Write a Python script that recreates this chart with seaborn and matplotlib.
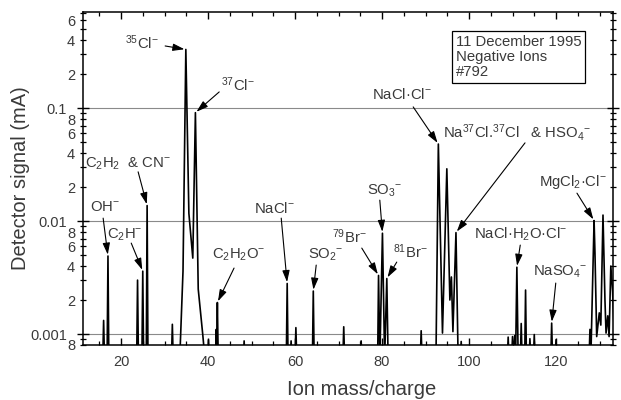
import matplotlib
matplotlib.use("Agg")
import matplotlib.pyplot as plt
import matplotlib.ticker as mticker
import seaborn as sns

# ion mass/charge and detector signal (mA)
BASE = 0.0006  # floor of the trace, below the visible axis
mass = [11.0,
        15.8, 16.0, 16.2, 16.8, 17.0, 17.2,
        23.6, 23.8, 24.0, 24.8, 25.0, 25.2, 25.8, 26.0, 26.2,
        31.6, 31.8, 32.0,
        33.5, 34.25, 34.9, 35.6, 36.5, 37.1, 37.75, 38.8, 39.3,
        39.9, 40.1, 40.3, 41.7, 41.9, 42.0, 42.15, 42.35,
        48.1, 48.3, 48.5,
        58.0, 58.2, 58.4, 58.9, 59.1, 59.3, 60.0, 60.2, 60.4,
        64.0, 64.2, 64.4, 71.0, 71.2, 71.4, 75.0, 75.2, 75.4,
        79.0, 79.2, 79.5, 80.1, 80.6, 81.1, 81.4,
        88.8, 89.0, 89.2,
        92.4, 92.95, 93.9, 94.9, 95.6, 95.95, 96.3, 97.0, 97.5,
        98.0, 98.2, 98.4,
        108.8, 109.0, 109.2, 109.8, 110.0, 110.3, 110.5, 110.7, 111.0, 111.3,
        111.8, 112.0, 112.2, 112.8, 113.0, 113.2, 113.8, 114.0, 114.2,
        114.8, 115.0, 115.2,
        118.8, 119.0, 119.2, 119.8, 120.0, 120.2,
        127.6, 127.8, 128.0, 128.75, 128.95, 129.35, 129.95, 130.3, 130.8,
        131.25, 131.5, 131.9, 132.2, 132.6, 133.0, 133.4, 134.0]
signal = [BASE,
          BASE, 0.00132, BASE, BASE, 0.0049, BASE,
          BASE, 0.0030, BASE, BASE, 0.0036, BASE, BASE, 0.0137, BASE,
          BASE, 0.00122, BASE,
          BASE, 0.0036, 0.33, 0.0117, 0.0047, 0.091, 0.0025, 0.00098, BASE,
          BASE, 0.00089, BASE, BASE, 0.0011, 0.0008, 0.0019, BASE,
          BASE, 0.00087, BASE,
          BASE, 0.0028, BASE, BASE, 0.00087, BASE, BASE, 0.00114, BASE,
          BASE, 0.0024, BASE, BASE, 0.00116, BASE, BASE, 0.00087, BASE,
          BASE, 0.0033, BASE, 0.0078, BASE, 0.0031, BASE,
          BASE, 0.00107, BASE,
          BASE, 0.048, 0.00102, 0.029, 0.0020, 0.0032, 0.00105, 0.0079, BASE,
          BASE, 0.00086, BASE,
          BASE, 0.00094, BASE, BASE, 0.00095, BASE, 0.00097, BASE, 0.0039, BASE,
          BASE, 0.00124, BASE, BASE, 0.00245, BASE, BASE, 0.00091, BASE,
          BASE, 0.00099, BASE,
          BASE, 0.00125, BASE, BASE, 0.00089, BASE,
          BASE, 0.0011, BASE, 0.0101, 0.0053, 0.00095, 0.00154, 0.0012, 0.0113,
          0.0020, 0.00102, 0.00145, 0.00095, 0.0040, 0.0024, 0.0010, BASE]

# peak labels: text, text x/baseline (axes fraction), arrow tail (axes fraction), peak mass
labels = [
    (r"$^{35}$Cl$^{-}$", 0.079, 0.889, 0.155, 0.898, 34.9),
    (r"$^{37}$Cl$^{-}$", 0.260, 0.763, 0.257, 0.760, 37.1),
    (r"C$_2$H$_2$  & CN$^{-}$", 0.004, 0.532, 0.104, 0.520, 26.0),
    (r"OH$^{-}$", 0.013, 0.402, 0.038, 0.381, 17.0),
    (r"C$_2$H$^{-}$", 0.045, 0.321, 0.091, 0.306, 25.0),
    (r"C$_2$H$_2$O$^{-}$", 0.243, 0.258, 0.285, 0.231, 42.15),
    (r"NaCl$^{-}$", 0.323, 0.396, 0.374, 0.381, 58.2),
    (r"SO$_2$$^{-}$", 0.425, 0.258, 0.440, 0.240, 64.2),
    (r"$^{79}$Br$^{-}$", 0.470, 0.306, 0.526, 0.291, 79.2),
    (r"SO$_3$$^{-}$", 0.536, 0.453, 0.560, 0.435, 80.1),
    (r"$^{81}$Br$^{-}$", 0.585, 0.261, 0.592, 0.249, 81.1),
    (r"NaCl·Cl$^{-}$", 0.545, 0.739, 0.623, 0.715, 92.95),
    (r"Na$^{37}$Cl.$^{37}$Cl   & HSO$_4$$^{-}$", 0.679, 0.622, 0.834, 0.607, 97.0),
    (r"MgCl$_2$·Cl$^{-}$", 0.860, 0.477, 0.932, 0.456, 128.75),
    (r"NaCl·H$_2$O·Cl$^{-}$", 0.738, 0.321, 0.825, 0.300, 111.0),
    (r"NaSO$_4$$^{-}$", 0.849, 0.207, 0.892, 0.186, 119.0),
]

info_text = "11 December 1995\nNegative Ions\n#792"

sns.set_style("ticks")
plt.rcParams["font.family"] = ["Liberation Sans", "DejaVu Sans"]
plt.rcParams["mathtext.fontset"] = "custom"
plt.rcParams["mathtext.rm"] = "Liberation Sans"
plt.rcParams["mathtext.it"] = "Liberation Sans:italic"
plt.rcParams["mathtext.default"] = "regular"

TXT = "#3a3a3a"

fig = plt.figure(figsize=(6.21, 4.0), dpi=100)
ax = fig.add_axes([83 / 621, 55 / 400, 530 / 621, 333 / 400])

sns.lineplot(x=mass, y=signal, ax=ax, color="black", lw=1.2,
             estimator=None, sort=False)

ax.set_yscale("log")
ax.set_xlim(11.26, 133.1)
ax.set_ylim(0.0008, 0.708)

# grid only at decades
for g in [0.001, 0.01, 0.1]:
    ax.axhline(g, color="#8a8a8a", lw=0.8, zorder=0)

ax.yaxis.set_major_locator(mticker.FixedLocator([0.001, 0.01, 0.1]))
ax.yaxis.set_major_formatter(mticker.FixedFormatter(["0.001", "0.01", "0.1"]))
ax.yaxis.set_minor_locator(mticker.LogLocator(base=10, subs=range(2, 10)))


def minor_fmt(v, pos):
    m = round(v / 10 ** int(f"{v:e}".split("e")[1]))
    return str(m) if m in (2, 4, 6, 8) else ""


ax.yaxis.set_minor_formatter(mticker.FuncFormatter(minor_fmt))
ax.xaxis.set_major_locator(mticker.MultipleLocator(20))
ax.xaxis.set_minor_locator(mticker.MultipleLocator(5))

ax.tick_params(axis="x", which="both", direction="in", top=True, bottom=True,
               colors="black", labelcolor=TXT, labelsize=10.5)
ax.tick_params(axis="x", which="major", length=5, width=1, pad=7)
ax.tick_params(axis="x", which="minor", length=3, width=0.9)
ax.tick_params(axis="y", which="both", direction="inout", left=True, right=True,
               colors="black", labelcolor=TXT, labelsize=10.5)
ax.tick_params(axis="y", which="major", length=8, width=1, pad=7.5)
ax.tick_params(axis="y", which="minor", length=4.3, width=0.9, pad=3.6)
for s in ax.spines.values():
    s.set_color("black")
    s.set_linewidth(1.1)

ax.set_xlabel("Ion mass/charge", fontsize=14.5, color=TXT)
ax.set_ylabel("Detector signal (mA)", fontsize=14.5, color=TXT)
ax.xaxis.set_label_coords(0.526, -0.105)
ax.yaxis.set_label_coords(-0.100, 0.5)

for text, tx, ty, ax_, ay_, m in labels:
    ax.text(tx, ty, text, transform=ax.transAxes, fontsize=10.7, color=TXT,
            ha="left", va="baseline")
    ax.annotate("", xy=(m, signal[mass.index(m)]), xycoords="data",
                xytext=(ax_, ay_), textcoords="axes fraction",
                arrowprops=dict(arrowstyle="-|>,head_length=0.7,head_width=0.22",
                                color="black", lw=0.8, shrinkA=0, shrinkB=1,
                                mutation_scale=10))

ax.text(0.704, 0.931, info_text, transform=ax.transAxes, fontsize=10.7,
        color=TXT, ha="left", va="top", linespacing=1.1,
        bbox=dict(boxstyle="square,pad=0.25", fc="white", ec="black", lw=0.9))

fig.savefig("out.png", dpi=100)
